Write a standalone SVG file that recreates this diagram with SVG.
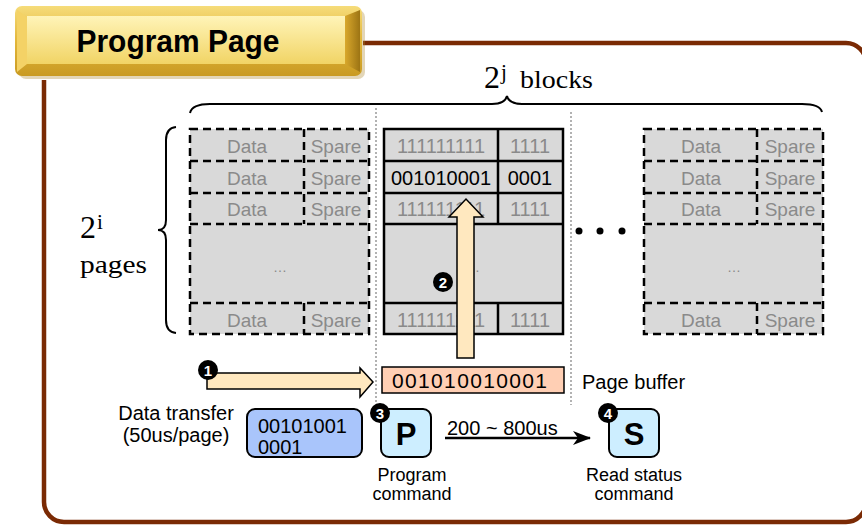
<svg xmlns="http://www.w3.org/2000/svg" width="862" height="527" viewBox="0 0 862 527">
<defs>
<linearGradient id="goldOuter" x1="0" y1="0" x2="0" y2="1">
<stop offset="0" stop-color="#f6dc7a"/>
<stop offset="0.5" stop-color="#e2b63a"/>
<stop offset="1" stop-color="#c99a22"/>
</linearGradient>
<linearGradient id="goldFace" x1="0" y1="0" x2="0" y2="1">
<stop offset="0" stop-color="#fff4b8"/>
<stop offset="1" stop-color="#f1d465"/>
</linearGradient>
<linearGradient id="goldRight" x1="0" y1="0" x2="1" y2="0">
<stop offset="0" stop-color="#d9a82c"/>
<stop offset="1" stop-color="#9c7414"/>
</linearGradient>
<marker id="stealth" viewBox="0 0 18 14" refX="17" refY="7" markerWidth="18" markerHeight="14" markerUnits="userSpaceOnUse" orient="auto">
<path d="M0,0 L18,7 L0,14 L5,7 Z" fill="#000"/>
</marker>
<style>
.frame{fill:none;stroke:#7a2a04;stroke-width:4.5;}
.brace{fill:none;stroke:#000;stroke-width:2;}
.serif{font-family:"Liberation Serif","DejaVu Serif",serif;fill:#000;}
.sans{font-family:"Liberation Sans",Arial,sans-serif;}
.cell{fill:#d9d9d9;stroke:none;}
.dash{fill:none;stroke:#000;stroke-width:2.5;stroke-dasharray:8 5;}
.solid{fill:none;stroke:#000;stroke-width:2.5;}
.gtxt{font-family:"Liberation Sans",Arial,sans-serif;font-size:19px;fill:#8a8a8a;text-anchor:middle;}
.mtxt{font-family:"Liberation Sans",Arial,sans-serif;font-size:20px;fill:#8a8a8a;text-anchor:middle;}
.btxt{font-family:"Liberation Sans",Arial,sans-serif;font-size:20px;fill:#000;text-anchor:middle;}
.ell{font-family:"Liberation Sans",Arial,sans-serif;font-size:14px;fill:#8a8a8a;text-anchor:middle;}
.dotted{fill:none;stroke:#999;stroke-width:1.5;stroke-dasharray:2 2;}
.fat{fill:#ffe8bf;stroke:#000;stroke-width:1.5;stroke-linejoin:miter;}
.num{fill:#000;}
.numt{font-family:"Liberation Sans",Arial,sans-serif;font-size:15px;font-weight:bold;fill:#fff;text-anchor:middle;}
.lbl{font-family:"Liberation Sans",Arial,sans-serif;font-size:20px;fill:#000;}
.lbl2{font-family:"Liberation Sans",Arial,sans-serif;font-size:18px;fill:#000;text-anchor:middle;}
.cmd{fill:#cdeeff;stroke:#000;stroke-width:2;}
.big{font-family:"Liberation Sans",Arial,sans-serif;font-size:31px;font-weight:bold;fill:#000;text-anchor:middle;}
</style>
</defs>
<rect width="862" height="527" fill="#fff"/>

<g id="frame">
<path class="frame" d="M363,43 H846 A20,20 0 0 1 866,63 V502 A20,20 0 0 1 846,522 H64 A20,20 0 0 1 44,502 V80"/>
</g>

<g id="title">
<rect x="19" y="10" width="346" height="69" rx="7" fill="#b08a30" opacity="0.35"/>
<rect x="15" y="6" width="347" height="70" rx="7" fill="url(#goldOuter)"/>
<path d="M345,16 L360,10 L360,72 L345,64 Z" fill="url(#goldRight)"/>
<path d="M17,10 L27,17 L27,64 L17,72 Z" fill="#f4d266"/>
<rect x="27" y="16" width="318" height="48" fill="url(#goldFace)"/>
<text x="178" y="52" class="sans" font-size="31" font-weight="bold" text-anchor="middle" textLength="203" lengthAdjust="spacingAndGlyphs" fill="#000">Program Page</text>
</g>

<g id="blocksLabel">
<path class="brace" d="M190,113 Q192,104 210,104 L492,104 Q505,104 507,96 Q509,104 522,104 L802,104 Q820,104 822,112"/>
<text class="serif" x="484" y="88" font-size="32">2</text>
<text class="serif" x="501" y="79" font-size="21">j</text>
<text class="serif" x="520" y="88" font-size="25" textLength="73" lengthAdjust="spacingAndGlyphs">blocks</text>
</g>

<g id="pagesLabel">
<path class="brace" d="M176,127 Q166,128 166,140 L166,220 Q166,230 158,230 Q166,230 166,240 L166,320 Q166,332 176,333"/>
<text class="serif" x="80" y="238" font-size="32">2</text>
<text class="serif" x="97" y="229" font-size="21">i</text>
<text class="serif" x="80" y="273" font-size="25" textLength="67" lengthAdjust="spacingAndGlyphs">pages</text>
</g>

<g id="dividers">
<line class="dotted" x1="376" y1="108" x2="376" y2="403"/>
<line class="dotted" x1="571" y1="112" x2="571" y2="405"/>
</g>

<g id="blockLeft">
<rect class="cell" x="190" y="129" width="179" height="205"/>
<rect class="dash" x="190" y="129" width="179" height="205"/>
<path class="dash" d="M190,161 H369 M190,193 H369 M190,224 H369 M190,303 H369 M304,129 V224 M304,303 V334"/>
<text class="gtxt" x="247" y="153">Data</text><text class="gtxt" x="336" y="153">Spare</text>
<text class="gtxt" x="247" y="185">Data</text><text class="gtxt" x="336" y="185">Spare</text>
<text class="gtxt" x="247" y="216">Data</text><text class="gtxt" x="336" y="216">Spare</text>
<text class="ell" x="280" y="272">…</text>
<text class="gtxt" x="247" y="327">Data</text><text class="gtxt" x="336" y="327">Spare</text>
</g>

<g id="blockMid">
<rect class="cell" x="384" y="129" width="179" height="205"/>
<rect class="solid" x="384" y="129" width="179" height="205"/>
<path class="solid" d="M384,161 H563 M384,193 H563 M384,224 H563 M384,303 H563 M498,129 V224 M498,303 V334"/>
<text class="mtxt" x="441" y="153">111111111</text><text class="mtxt" x="530" y="153">1111</text>
<text class="btxt" x="441" y="185">001010001</text><text class="btxt" x="530" y="185">0001</text>
<text class="mtxt" x="441" y="216">111111111</text><text class="mtxt" x="530" y="216">1111</text>
<text class="ell" x="473" y="272">…</text>
<text class="mtxt" x="441" y="327">111111111</text><text class="mtxt" x="530" y="327">1111</text>
</g>

<g id="moreBlocks">
<circle cx="579" cy="231" r="3.5" fill="#000"/>
<circle cx="600" cy="231" r="3.5" fill="#000"/>
<circle cx="622" cy="231" r="3.5" fill="#000"/>
</g>

<g id="blockRight">
<rect class="cell" x="644" y="129" width="179" height="205"/>
<rect class="dash" x="644" y="129" width="179" height="205"/>
<path class="dash" d="M644,161 H823 M644,193 H823 M644,224 H823 M644,303 H823 M757,129 V224 M757,303 V334"/>
<text class="gtxt" x="701" y="153">Data</text><text class="gtxt" x="790" y="153">Spare</text>
<text class="gtxt" x="701" y="185">Data</text><text class="gtxt" x="790" y="185">Spare</text>
<text class="gtxt" x="701" y="216">Data</text><text class="gtxt" x="790" y="216">Spare</text>
<text class="ell" x="734" y="272">…</text>
<text class="gtxt" x="701" y="327">Data</text><text class="gtxt" x="790" y="327">Spare</text>
</g>

<g id="pageBuffer">
<rect x="382" y="367" width="182" height="26" fill="#ffcfb4" stroke="#000" stroke-width="1.5"/>
<text class="sans" x="392" y="388" font-size="21" textLength="155" lengthAdjust="spacing" fill="#000">001010010001</text>
<text class="lbl" x="582" y="389" font-size="19">Page buffer</text>
</g>

<g id="connectors">
<path class="fat" d="M207,373 H360 V368 L373,382 L360,397 V389 H207 Z"/>
<path class="fat" d="M457,358 V217 H449 L466,199 L483,217 H474 V358 Z"/>
<line x1="445" y1="438" x2="590" y2="438" stroke="#000" stroke-width="2.5" marker-end="url(#stealth)"/>
<text class="lbl" x="447" y="435">200 ~ 800us</text>
</g>

<g id="dataTransfer">
<text class="lbl" x="176" y="420" text-anchor="middle">Data transfer</text>
<text class="lbl" x="176" y="442" text-anchor="middle">(50us/page)</text>
<rect x="247" y="409" width="115" height="48" rx="8" fill="#a9c5fb" stroke="#000" stroke-width="2"/>
<text class="lbl" x="258" y="433">00101001</text>
<text class="lbl" x="258" y="454">0001</text>
</g>

<g id="programCmd">
<rect class="cmd" x="381" y="409" width="50" height="48" rx="8"/>
<text class="big" x="406" y="445">P</text>
<text class="lbl2" x="412" y="481">Program</text>
<text class="lbl2" x="412" y="500">command</text>
</g>

<g id="statusCmd">
<rect class="cmd" x="609" y="409" width="50" height="48" rx="8"/>
<text class="big" x="634" y="445">S</text>
<text class="lbl2" x="634" y="481">Read status</text>
<text class="lbl2" x="634" y="500">command</text>
</g>

<g id="steps">
<circle class="num" cx="208" cy="370" r="10"/><text class="numt" x="208" y="375.5">1</text>
<circle class="num" cx="443" cy="282" r="10"/><text class="numt" x="443" y="287.5">2</text>
<circle class="num" cx="380" cy="413" r="10"/><text class="numt" x="380" y="418.5">3</text>
<circle class="num" cx="608" cy="413" r="10"/><text class="numt" x="608" y="418.5">4</text>
</g>
</svg>
